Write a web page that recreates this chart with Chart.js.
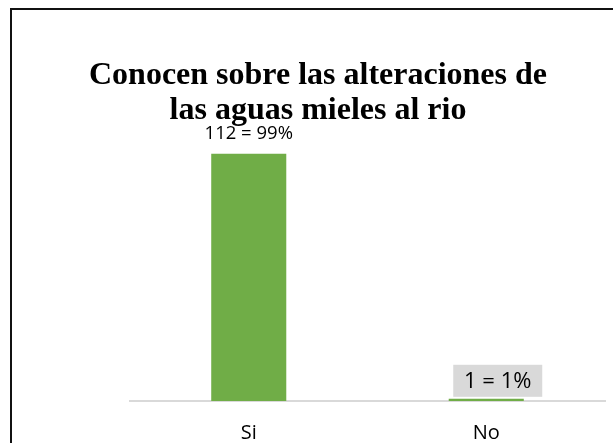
<!DOCTYPE html>
<html>
<head>
<meta charset="utf-8">
<script src="https://cdn.jsdelivr.net/npm/chart.js@4.4.1/dist/chart.umd.min.js"></script>
<style>
  body { margin: 0; background: #fff; }
  canvas { display: block; }
</style>
</head>
<body>
<canvas id="chart" width="613" height="443"></canvas>
<script>
var ctx = document.getElementById("chart").getContext("2d");

var categories = ["Si", "No"];
var counts = [112, 1];
var percents = [99, 1];
var titleLines = ["Conocen sobre las alteraciones de", "las aguas mieles al rio"];

var green = "#70AD47";
var lightGray = "#D9D9D9";

// black frame on the left and top, like the cropped picture
var framePlugin = {
  id: "frame",
  beforeDraw: function (chart) {
    var c = chart.ctx;
    c.save();
    c.fillStyle = "#fff";
    c.fillRect(0, 0, chart.width, chart.height);
    c.fillStyle = "#111";
    c.fillRect(10, 8, 2, chart.height - 8);
    c.fillRect(10, 8, chart.width - 10, 2);
    c.restore();
  }
};

// "n = p%" labels above the bars, the small one sits in a grey box
var valueLabels = {
  id: "valueLabels",
  afterDatasetsDraw: function (chart) {
    var c = chart.ctx;
    var bars = chart.getDatasetMeta(0).data;
    c.save();
    c.textAlign = "center";
    c.textBaseline = "middle";
    c.fillStyle = "#000";
    bars.forEach(function (bar, i) {
      var txt = counts[i] + " = " + percents[i] + "%";
      if (i === 0) {
        c.font = "18.5px 'Open Sans'";
        c.fillText(txt, bar.x, bar.y - 20);
      } else {
        var cx = bar.x + 11.5, cy = bar.y - 18;
        c.fillStyle = lightGray;
        c.fillRect(cx - 44.5, cy - 16, 89, 32);
        c.fillStyle = "#000";
        c.font = "22px 'Open Sans'";
        c.fillText(txt, cx, cy + 1);
      }
    });
    c.restore();
  }
};

var chart = new Chart(ctx, {
  type: "bar",
  data: {
    labels: categories,
    datasets: [
      {
        data: counts,
        backgroundColor: green,
        borderWidth: 0,
        barPercentage: 0.316,
        categoryPercentage: 1
      }
    ]
  },
  options: {
    responsive: false,
    animation: false,
    layout: { padding: { left: 31, right: 8, top: 46, bottom: 1 } },
    plugins: {
      legend: { display: false },
      tooltip: { enabled: false },
      title: {
        display: true,
        text: titleLines,
        color: "#000",
        font: { family: "'Liberation Serif'", size: 32, weight: "bold", lineHeight: 1.07 },
        padding: { top: 13, bottom: 8.5 }
      }
    },
    scales: {
      x: {
        grid: { display: false, drawTicks: false },
        border: { display: true, color: lightGray, width: 2 },
        ticks: {
          color: "#000",
          padding: 22,
          font: { family: "'Open Sans'", size: 20, lineHeight: 1 }
        },
        afterFit: function (scale) { scale.height = 41; }
      },
      y: {
        min: 0,
        max: 120,
        grid: { display: false, drawTicks: false },
        border: { display: false },
        ticks: { display: false },
        afterFit: function (scale) { scale.width = 99; }
      }
    }
  },
  plugins: [framePlugin, valueLabels]
});
</script>
</body>
</html>
